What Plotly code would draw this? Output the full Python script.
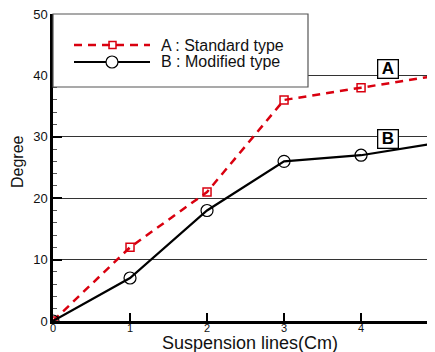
import plotly.graph_objects as go

suspension_lines = [0, 1, 2, 3, 4, 5]
standard_type = [0, 12, 21, 36, 38, 40]
modified_type = [0, 7, 18, 26, 27, 29]
x_ticks = [0, 1, 2, 3, 4]
y_ticks = [0, 10, 20, 30, 40, 50]
series_names = ["A : Standard type", "B : Modified type"]
tag_labels = ["A", "B"]
tag_x = [4.35, 4.35]
tag_y = [41.0, 29.7]

FONT = "Liberation Sans, Arial, sans-serif"
RED = "#d9000f"

# page body has an 8px margin; figure is sized so that it ends at the window edge
OFF = 8
FIG_W, FIG_H = 435 - OFF, 352 - OFF
PL, PT, PB = 53, 14, 321          # plot edges in window pixels
W = 382.0
H = float(PB - PT)

fig = go.Figure()
fig.add_trace(go.Scatter(
    x=suspension_lines, y=standard_type, mode="lines+markers", name=series_names[0],
    line=dict(color=RED, width=2.5, dash="8px,6px"),
    marker=dict(symbol="square-open", size=8, color=RED, line=dict(width=1.5, color=RED)),
    showlegend=False,
))
fig.add_trace(go.Scatter(
    x=suspension_lines, y=modified_type, mode="lines+markers", name=series_names[1],
    line=dict(color="black", width=2.2),
    marker=dict(symbol="circle-open", size=12, color="black", line=dict(width=1.2, color="black")),
    showlegend=False,
))

def px(x):
    return (x - PL) / W
def py(y):
    return (PB - y) / H

shapes = []
annotations = []
# manual legend box
shapes.append(dict(type="rect", xref="paper", yref="paper", x0=0, x1=px(308), y0=py(87), y1=1,
                   fillcolor="white", line=dict(color="#555", width=1.2), layer="above"))
legend_rows = [
    (45, RED, "8px,6px", 2.5),
    (62, "black", "solid", 2.2),
]
for i, (rowy, col, dash, w) in enumerate(legend_rows):
    shapes.append(dict(type="line", xref="paper", yref="paper", x0=px(74), x1=px(150),
                       y0=py(rowy), y1=py(rowy), line=dict(color=col, width=w, dash=dash), layer="above"))
    annotations.append(dict(xref="paper", yref="paper", x=px(159), y=py(rowy), text=series_names[i],
                            showarrow=False, xanchor="left", yanchor="middle",
                            font=dict(family=FONT, size=16, color="#111")))
# legend markers
shapes.append(dict(type="rect", xref="paper", yref="paper", x0=px(109), x1=px(116),
                   y0=py(48.5), y1=py(41.5), fillcolor="rgba(0,0,0,0)", line=dict(color=RED, width=1.5), layer="above"))
shapes.append(dict(type="circle", xref="paper", yref="paper", x0=px(106), x1=px(118),
                   y0=py(68), y1=py(56), fillcolor="white", line=dict(color="black", width=1.2), layer="above"))

for lab, tx, ty in zip(tag_labels, tag_x, tag_y):
    annotations.append(dict(x=tx, y=ty, xref="x", yref="y", text="<b>%s</b>" % lab, showarrow=False,
                            font=dict(family=FONT, size=17, color="black"), bgcolor="white",
                            bordercolor="black", borderwidth=1.3, borderpad=0, width=19, height=17))

# axis titles
annotations.append(dict(xref="paper", yref="paper", x=px(250), y=py(342.5), text="Suspension lines(Cm)",
                        showarrow=False, xanchor="center", yanchor="middle",
                        font=dict(family=FONT, size=18, color="#111")))
annotations.append(dict(xref="paper", yref="paper", x=px(17), y=py(162), text="Degree", textangle=-90,
                        showarrow=False, xanchor="center", yanchor="middle",
                        font=dict(family=FONT, size=16, color="#111")))

fig.update_layout(
    width=FIG_W, height=FIG_H,
    margin=dict(l=PL - OFF, r=0, t=PT - OFF, b=FIG_H - (PB - OFF), autoexpand=False),
    paper_bgcolor="white", plot_bgcolor="white",
    font=dict(family=FONT, size=13, color="#111"),
    shapes=shapes, annotations=annotations,
    showlegend=False,
)
fig.update_xaxes(
    range=[0, 4.96], tickvals=x_ticks, ticktext=[str(v) for v in x_ticks],
    showgrid=False, zeroline=False, automargin=False,
    showline=True, linecolor="black", linewidth=2.5,
    ticks="inside", ticklen=8, tickwidth=1.5, tickcolor="black",
    ticklabelstandoff=-5, ticklabeloverflow="allow",
    tickfont=dict(family=FONT, size=11, color="#111"),
)
fig.update_yaxes(
    range=[0, 50], tickvals=y_ticks, ticktext=[str(v) for v in y_ticks],
    showgrid=True, gridcolor="#333", gridwidth=1,
    zeroline=False, automargin=False,
    showline=True, linecolor="black", linewidth=2.5,
    ticks="inside", ticklen=9, tickwidth=2, tickcolor="black",
    ticklabeloverflow="allow",
    minor=dict(dtick=2, ticks="inside", ticklen=4, tickcolor="#555", tickwidth=1, showgrid=False),
    tickfont=dict(family=FONT, size=13, color="#111"),
)

fig.write_html("out.html")
